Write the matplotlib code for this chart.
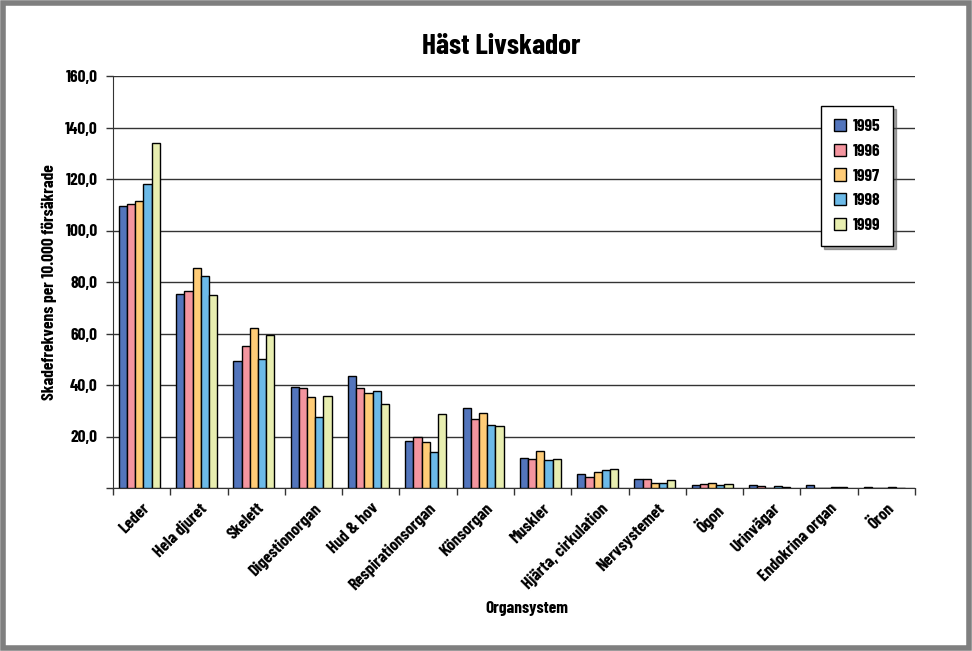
import numpy as np
import matplotlib.pyplot as plt
from matplotlib.patches import Rectangle

# data
categories = ['Leder', 'Hela djuret', 'Skelett', 'Digestionorgan', 'Hud & hov',
              'Respirationsorgan', 'Könsorgan', 'Muskler', 'Hjärta, cirkulation',
              'Nervsystemet', 'Ögon', 'Urinvägar', 'Endokrina organ', 'Öron']
years = ['1995', '1996', '1997', '1998', '1999']
v1995 = [109.7, 75.3, 49.5, 39.1, 43.4, 18.3, 30.9, 11.8, 5.5, 3.5, 1.2, 1.0, 1.0, 0.3]
v1996 = [110.3, 76.5, 55.1, 38.8, 39.0, 19.7, 26.9, 11.2, 4.3, 3.5, 1.4, 0.8, 0.0, 0.0]
v1997 = [111.4, 85.4, 62.0, 35.3, 37.0, 17.7, 29.2, 14.5, 6.4, 1.9, 1.9, 0.1, 0.0, 0.0]
v1998 = [117.9, 82.3, 50.1, 27.7, 37.7, 14.0, 24.5, 10.9, 7.0, 1.9, 1.2, 0.8, 0.5, 0.2]
v1999 = [133.9, 74.9, 59.4, 35.7, 32.7, 28.8, 24.2, 11.4, 7.3, 3.2, 1.6, 0.4, 0.4, 0.0]
series = [v1995, v1996, v1997, v1998, v1999]
colors = ['#5375BC', '#F4959F', '#FFCC77', '#6CBAE8', '#E8EEB0']

plt.rcParams['font.family'] = ['Barlow Condensed', 'DejaVu Sans']
plt.rcParams['font.weight'] = 'bold'
plt.rcParams['axes.labelweight'] = 'bold'

fig = plt.figure(figsize=(9.72, 6.51), dpi=100)
ax = fig.add_axes([113/972, 1 - 488/651, (915-113)/972, (488-76)/651])

x = np.arange(len(categories))
w = 0.143
for i, vals in enumerate(series):
    ax.bar(x + (i - 2) * w - 0.04, vals, w, color=colors[i], edgecolor='black',
           linewidth=1, label=years[i], zorder=3)

ax.set_xlim(-0.5, len(categories) - 0.5)
ax.set_ylim(0, 160)
ax.set_yticks(np.arange(0, 161, 20))
ax.set_yticklabels([''] + ['%d,0' % v for v in range(20, 161, 20)], fontsize=12.5)
ax.yaxis.grid(True, color='#333333', linewidth=1, zorder=0)
ax.tick_params(axis='y', length=5, width=1, color='#333333', pad=6)

ax.set_xticks(x)
ax.set_xticklabels(categories, rotation=45, ha='right', rotation_mode='anchor', fontsize=12.5)
ax.set_xticks(np.arange(-0.5, len(categories)), minor=True)
ax.tick_params(axis='x', which='major', length=0, pad=9)
ax.tick_params(axis='x', which='minor', length=5, width=1, color='#333333')

for s in ['top', 'right']:
    ax.spines[s].set_visible(False)
for s in ['left', 'bottom']:
    ax.spines[s].set_color('#333333')

ax.set_ylabel('Skadefrekvens per 10.000 försäkrade', fontsize=12.5, labelpad=6)
fig.text(527/972, 1 - 608/651, 'Organsystem', ha='center', va='center', fontsize=12.5)
fig.text(501/972, 1 - 46/651, 'Häst Livskador', ha='center', va='center', fontsize=21)

leg = ax.legend(loc='upper right', bbox_to_anchor=(893/972, 1 - 106/651),
                bbox_transform=fig.transFigure, fontsize=12.5, frameon=True, shadow=True,
                fancybox=False, labelspacing=0.55, handlelength=0.7, handleheight=0.7,
                handletextpad=0.35, borderpad=0.75, borderaxespad=0)
leg.get_frame().set_edgecolor('black')
leg.get_frame().set_linewidth(1)

fig.patches.append(Rectangle((0.003, 0.004), 0.994, 0.992, transform=fig.transFigure,
                             fill=False, edgecolor='#7f7f7f', linewidth=4))

fig.savefig('out.png', dpi=100)
